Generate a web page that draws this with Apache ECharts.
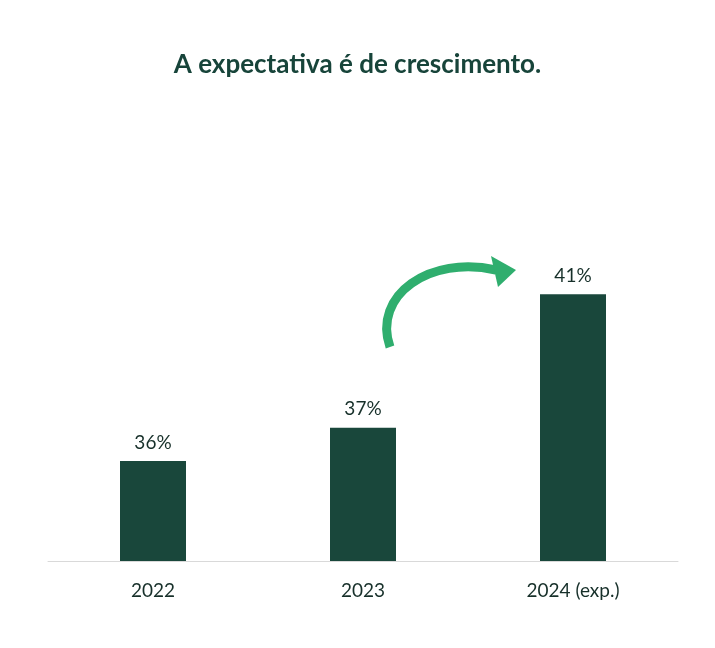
<!DOCTYPE html><html><head><meta charset="utf-8"><script src="https://cdn.jsdelivr.net/npm/echarts@6/dist/echarts.min.js"></script></head><body style="margin:0"><div id="c" style="width:715px;height:648px"></div><script>
const categories=['2022','2023','2024 (exp.)'];
const values=[36,37,41];
const chart=echarts.init(document.getElementById('c'));
chart.setOption({
 title:{text:'A expectativa é de crescimento.',left:'center',top:47,textStyle:{fontFamily:'Lato',fontSize:26,fontWeight:'bold',color:'#17443a'}},
 grid:{left:48,right:37,top:161,bottom:87},
 xAxis:{type:'category',data:categories,axisTick:{show:false},axisLine:{lineStyle:{color:'#d9d9d9'}},axisLabel:{fontFamily:'Lato',fontSize:19,color:'#17302a',margin:20}},
 yAxis:{type:'value',min:33,max:45,show:false,splitLine:{show:false}},
 series:[{type:'bar',data:values,barWidth:66,itemStyle:{color:'#19473b'},label:{show:true,position:'top',distance:9,formatter:'{c}%',fontFamily:'Lato',fontSize:19,color:'#17302a'}}],
 graphic:[
  {type:'bezierCurve',shape:{x1:390,y1:347,cpx1:372,cpy1:295,cpx2:430,cpy2:255,x2:496,y2:270},style:{stroke:'#2fae6e',lineWidth:9,fill:null}},
  {type:'polygon',shape:{points:[[491,256],[516,270],[498,287]]},style:{fill:'#2fae6e'}}
 ]
});
</script></body></html>
